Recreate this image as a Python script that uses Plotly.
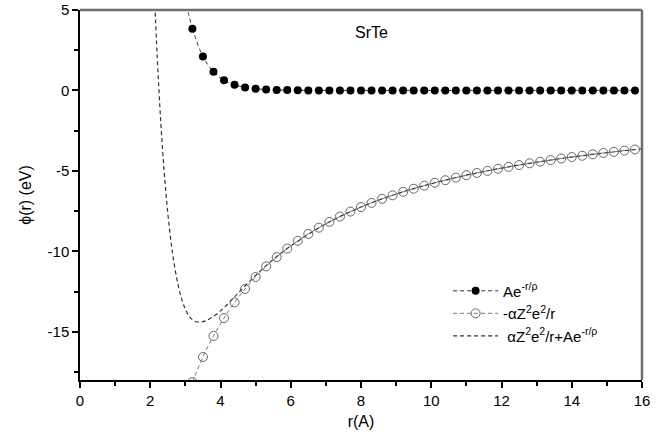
import plotly.graph_objects as go

r_pts = [3.2, 3.5, 3.8, 4.1, 4.4, 4.7, 5.0, 5.3, 5.6, 5.9, 6.2, 6.5, 6.8, 7.1, 7.4,
         7.7, 8.0, 8.3, 8.6, 8.9, 9.2, 9.5, 9.8, 10.1, 10.4, 10.7, 11.0, 11.3, 11.6,
         11.9, 12.2, 12.5, 12.8, 13.1, 13.4, 13.7, 14.0, 14.3, 14.6, 14.9, 15.2, 15.5, 15.8]

# Repulsive term  A e^{-r/rho}  (filled dots)
repulsive = [3.84, 2.11, 1.16, 0.64, 0.35, 0.19, 0.10, 0.06, 0.03, 0.02, 0.01, 0.0, 0.0,
             0.0, 0.0, 0.0, 0.0, 0.0, 0.0, 0.0, 0.0, 0.0, 0.0, 0.0, 0.0, 0.0, 0.0, 0.0,
             0.0, 0.0, 0.0, 0.0, 0.0, 0.0, 0.0, 0.0, 0.0, 0.0, 0.0, 0.0, 0.0, 0.0, 0.0]

# Coulomb term  -alpha Z^2 e^2 / r  (open circles)
coulomb = [-18.13, -16.57, -15.26, -14.15, -13.18, -12.34, -11.60, -10.94, -10.36, -9.83,
           -9.35, -8.92, -8.53, -8.17, -7.84, -7.53, -7.25, -6.99, -6.74, -6.52, -6.30,
           -6.11, -5.92, -5.74, -5.58, -5.42, -5.27, -5.13, -5.00, -4.87, -4.75, -4.64,
           -4.53, -4.43, -4.33, -4.23, -4.14, -4.06, -3.97, -3.89, -3.82, -3.74, -3.67]

# Leading segment of the repulsive dashed line (above the first dot)
rep_lead_r = [3.0, 3.1, 3.2]
rep_lead_v = [5.73, 4.69, 3.84]

# Total potential (dashed curve)
total_r = [2.1, 2.2, 2.3, 2.4, 2.5, 2.6, 2.7, 2.8, 2.9, 3.0, 3.1, 3.2, 3.3, 3.4, 3.5,
           3.6, 3.8, 4.0, 4.2, 4.5, 5.0, 5.5, 6.0, 7.0, 8.0, 9.0, 10.0, 11.0, 12.0,
           13.0, 14.0, 15.0, 16.0]
total = [7.04, 2.01, -1.99, -5.15, -7.63, -9.56, -11.04, -12.16, -13.0, -13.6, -14.02,
         -14.25, -14.38, -14.40, -14.37, -14.30, -14.05, -13.70, -13.29, -12.60, -11.50,
         -10.51, -9.67, -8.29, -7.25, -6.44, -5.80, -5.27, -4.83, -4.46, -4.14, -3.87, -3.63]

x_ticks = [0, 2, 4, 6, 8, 10, 12, 14, 16]
y_ticks = [5, 0, -5, -10, -15]
y_ticktext = ["5", "0", "-5", "-10", "-15"]

LINE = "#333333"
DASH = "4px,3px"
FONT = "Liberation Sans, Arial, sans-serif"

fig = go.Figure()

fig.add_trace(go.Scatter(
    x=rep_lead_r, y=rep_lead_v, mode="lines",
    line=dict(color=LINE, width=1, dash=DASH, shape="spline"),
    showlegend=False, hoverinfo="skip"))
fig.add_trace(go.Scatter(
    x=r_pts, y=repulsive, mode="lines+markers",
    name="Ae<sup>-r/ρ</sup>", legendrank=1,
    line=dict(color=LINE, width=1, dash=DASH, shape="spline"),
    marker=dict(symbol="circle", size=8, color="black")))

fig.add_trace(go.Scatter(
    x=total_r, y=total, mode="lines",
    name=" αZ<sup>2</sup>e<sup>2</sup>/r+Ae<sup>-r/ρ</sup>", legendrank=3,
    line=dict(color=LINE, width=1.2, dash=DASH, shape="spline")))

fig.add_trace(go.Scatter(
    x=r_pts, y=coulomb, mode="lines+markers",
    name="-αZ<sup>2</sup>e<sup>2</sup>/r", legendrank=2,
    line=dict(color="#666666", width=0.9, dash=DASH, shape="spline"),
    marker=dict(symbol="circle-open", size=9, color="#666666", line=dict(width=1))))

fig.add_annotation(x=8.3, y=3.6, text="SrTe", showarrow=False,
                   font=dict(size=16, color="black", family=FONT))

# top and right frame lines (gray)
fig.add_shape(type="line", xref="paper", yref="paper", x0=0, x1=1, y0=1, y1=1,
              line=dict(color="#6e6e6e", width=2.5))
fig.add_shape(type="line", xref="paper", yref="paper", x0=1, x1=1, y0=0, y1=1,
              line=dict(color="#6e6e6e", width=2.5))

fig.update_layout(
    width=656, height=447,
    margin=dict(l=80, r=14, t=10, b=67, autoexpand=False),
    paper_bgcolor="white", plot_bgcolor="white",
    font=dict(family=FONT, size=15, color="black"),
    legend=dict(x=0.655, y=0.285, xanchor="left", yanchor="top",
                bgcolor="rgba(0,0,0,0)", font=dict(size=15),
                itemwidth=45, tracegroupgap=0),
    xaxis=dict(range=[0, 16], tickvals=x_ticks, ticks="outside", ticklen=6,
               tickwidth=1.5, tickcolor="black", showline=True, linecolor="black",
               linewidth=1.5, showgrid=False, zeroline=False, automargin=False,
               minor=dict(dtick=1, ticks="outside", ticklen=4, tickwidth=1.5,
                          tickcolor="black", showgrid=False),
               title=dict(text="r(A)", font=dict(size=16), standoff=8)),
    yaxis=dict(range=[-18, 5], tickvals=y_ticks, ticktext=y_ticktext, ticks="outside",
               ticklen=6, tickwidth=1.5, tickcolor="black", showline=True,
               linecolor="black", linewidth=1.5, showgrid=False, zeroline=False,
               automargin=False,
               minor=dict(dtick=2.5, ticks="outside", ticklen=4, tickwidth=1.5,
                          tickcolor="black", showgrid=False),
               title=dict(text="ϕ(r) (eV)", font=dict(size=16), standoff=12)),
)

fig.write_html("out.html")
